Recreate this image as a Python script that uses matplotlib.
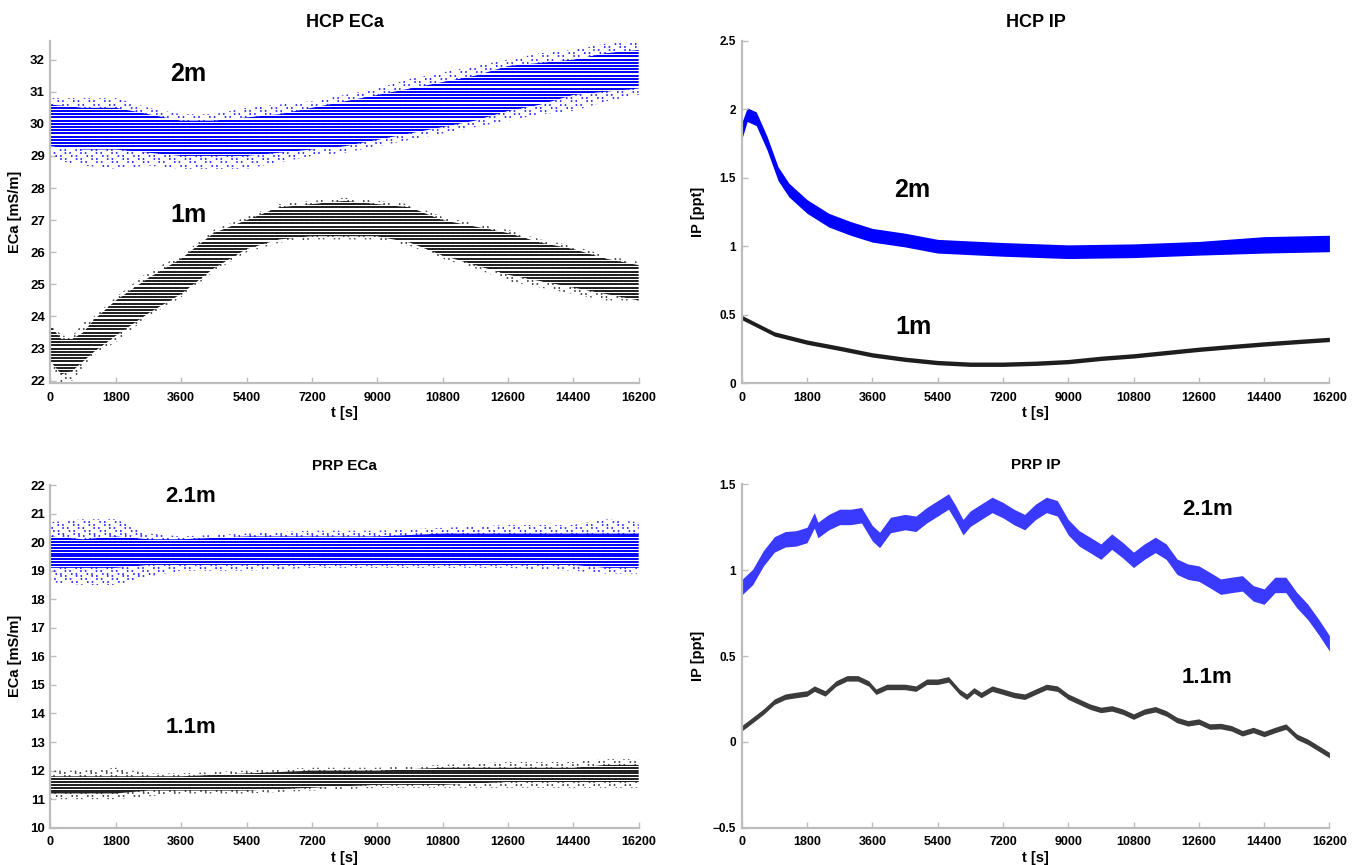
import numpy as np
import matplotlib
matplotlib.use("Agg")
import matplotlib.pyplot as plt
from matplotlib.patches import PathPatch

plt.rcParams['font.family'] = ['Liberation Sans', 'DejaVu Sans']
plt.rcParams['font.weight'] = 'bold'

# ---------------- HCP ECa ----------------
t_hcp2 = [0, 900, 1800, 2700, 3600, 4500, 5400, 6300, 7200, 8100, 9000, 9900,
          10800, 11700, 12600, 13500, 14400, 15300, 16200]
hcp2_lo = [29.3, 29.2, 29.2, 29.1, 29.0, 29.0, 29.0, 29.1, 29.2, 29.3, 29.5, 29.7,
           29.9, 30.1, 30.4, 30.6, 30.9, 31.0, 31.1]
hcp2_hi = [30.6, 30.5, 30.5, 30.3, 30.1, 30.1, 30.2, 30.3, 30.5, 30.7, 30.9, 31.1,
           31.3, 31.5, 31.8, 31.9, 32.0, 32.2, 32.3]
hcp2_olo = [28.9, 28.7, 28.6, 28.7, 28.6, 28.6, 28.6, 28.8, 29.0, 29.1, 29.3, 29.5,
            29.7, 29.9, 30.1, 30.3, 30.4, 30.7, 30.9]
hcp2_ohi = [30.8, 30.8, 30.8, 30.5, 30.3, 30.3, 30.5, 30.6, 30.7, 30.9, 31.1, 31.4,
            31.6, 31.8, 32.0, 32.2, 32.3, 32.5, 32.6]

t_hcp1 = [0, 300, 600, 900, 1200, 1800, 2700, 3600, 4500, 5400, 6300, 7200, 8100,
          9000, 9900, 10800, 11700, 12600, 13500, 14400, 15300, 16200]
hcp1_lo = [22.6, 22.2, 22.3, 22.6, 22.9, 23.4, 24.1, 24.7, 25.5, 26.1, 26.4, 26.5, 26.5,
           26.5, 26.3, 25.9, 25.6, 25.3, 25.1, 24.9, 24.7, 24.5]
hcp1_hi = [23.7, 23.3, 23.3, 23.5, 23.9, 24.5, 25.2, 25.8, 26.6, 27.0, 27.4, 27.5, 27.6,
           27.5, 27.4, 27.0, 26.8, 26.6, 26.3, 26.1, 25.8, 25.6]
hcp1_olo = [22.5, 21.9, 22.0, 22.4, 22.8, 23.2, 24.0, 24.6, 25.4, 26.0, 26.3, 26.4, 26.4,
            26.4, 26.2, 25.8, 25.5, 25.1, 24.9, 24.7, 24.5, 24.5]
hcp1_ohi = [23.9, 23.4, 23.4, 23.8, 24.0, 24.6, 25.4, 25.9, 26.7, 27.1, 27.5, 27.6, 27.7,
            27.6, 27.5, 27.1, 26.9, 26.7, 26.4, 26.2, 25.9, 25.7]

# ---------------- PRP ECa ----------------
t_prp = [0, 900, 1800, 2700, 3600, 5400, 7200, 9000, 10800, 12600, 14400, 15300, 16200]
prp2_lo = [19.1, 19.1, 19.1, 19.2, 19.2, 19.2, 19.2, 19.2, 19.2, 19.2, 19.2, 19.1, 19.1]
prp2_hi = [20.2, 20.1, 20.2, 20.1, 20.1, 20.2, 20.2, 20.2, 20.3, 20.3, 20.3, 20.3, 20.3]
prp2_olo = [18.6, 18.5, 18.5, 18.8, 19.0, 19.0, 19.1, 19.1, 19.1, 19.1, 19.0, 18.9, 18.9]
prp2_ohi = [20.7, 20.8, 20.8, 20.3, 20.2, 20.3, 20.4, 20.4, 20.5, 20.6, 20.6, 20.8, 20.7]
prp1_lo = [11.2, 11.2, 11.2, 11.3, 11.3, 11.3, 11.4, 11.5, 11.5, 11.6, 11.6, 11.6, 11.6]
prp1_hi = [11.8, 11.8, 11.8, 11.8, 11.8, 11.9, 12.0, 12.0, 12.1, 12.1, 12.1, 12.2, 12.2]
prp1_olo = [11.0, 11.0, 11.0, 11.1, 11.2, 11.2, 11.3, 11.4, 11.4, 11.4, 11.4, 11.4, 11.4]
prp1_ohi = [12.0, 12.0, 12.1, 11.9, 11.9, 12.0, 12.1, 12.1, 12.2, 12.3, 12.3, 12.4, 12.4]

# ---------------- HCP IP ----------------
t_ip2 = [0, 150, 400, 700, 1000, 1300, 1800, 2400, 3000, 3600, 4500, 5400, 7200,
         9000, 10800, 12600, 14400, 16200]
ip2_mid = [1.84, 1.96, 1.93, 1.75, 1.53, 1.41, 1.29, 1.19, 1.13, 1.08, 1.045, 1.0, 0.977,
           0.96, 0.967, 0.985, 1.01, 1.02]
ip2_half = [0.06, 0.05, 0.05, 0.05, 0.05, 0.05, 0.05, 0.05, 0.05, 0.05, 0.05, 0.05, 0.05,
            0.05, 0.05, 0.05, 0.06, 0.06]

t_ip1 = [0, 900, 1800, 2700, 3600, 4500, 5400, 6300, 7200, 8100, 9000, 9900, 10800,
         11700, 12600, 13500, 14400, 15300, 16200]
ip1_mid = [0.48, 0.36, 0.30, 0.255, 0.207, 0.175, 0.151, 0.139, 0.139, 0.146, 0.158, 0.182,
           0.20, 0.224, 0.248, 0.268, 0.287, 0.304, 0.32]

# ---------------- PRP IP ----------------
t_pip2 = [0, 300, 600, 900, 1200, 1500, 1800, 2000, 2100, 2400, 2700, 3000, 3300, 3600,
          3800, 4100, 4500, 4800, 5100, 5400, 5700, 5900, 6100, 6300, 6600, 6900, 7200,
          7500, 7800, 8100, 8400, 8700, 9000, 9300, 9600, 9900, 10200, 10500, 10800,
          11100, 11400, 11700, 12000, 12300, 12600, 12900, 13200, 13500, 13800, 14100,
          14400, 14700, 15000, 15300, 15600, 15900, 16200]
pip2_mid = [0.90, 0.96, 1.07, 1.15, 1.18, 1.185, 1.205, 1.29, 1.234, 1.28, 1.31, 1.31,
            1.32, 1.215, 1.176, 1.263, 1.28, 1.27, 1.32, 1.36, 1.40, 1.33, 1.25, 1.30,
            1.34, 1.38, 1.35, 1.31, 1.28, 1.34, 1.38, 1.36, 1.25, 1.185, 1.147, 1.108,
            1.166, 1.117, 1.06, 1.108, 1.147, 1.108, 1.02, 0.991, 0.98, 0.943, 0.904,
            0.914, 0.923, 0.865, 0.846, 0.914, 0.914, 0.826, 0.758, 0.67, 0.574]

t_pip1 = [0, 300, 600, 900, 1200, 1500, 1800, 2000, 2300, 2600, 2900, 3200, 3500, 3700,
          4000, 4500, 4800, 5100, 5400, 5700, 6000, 6200, 6400, 6600, 6900, 7200, 7500,
          7800, 8100, 8400, 8700, 9000, 9300, 9600, 9900, 10200, 10500, 10800, 11100,
          11400, 11700, 12000, 12300, 12600, 12900, 13200, 13500, 13800, 14100, 14400,
          14700, 15000, 15300, 15600, 15900, 16200]
pip1_mid = [0.079, 0.127, 0.176, 0.234, 0.263, 0.273, 0.282, 0.31, 0.282, 0.34, 0.37,
            0.37, 0.34, 0.292, 0.32, 0.32, 0.31, 0.35, 0.35, 0.364, 0.292, 0.263, 0.30,
            0.273, 0.31, 0.292, 0.273, 0.263, 0.292, 0.32, 0.31, 0.263, 0.234, 0.205,
            0.186, 0.195, 0.176, 0.147, 0.176, 0.19, 0.166, 0.127, 0.108, 0.118, 0.089,
            0.092, 0.079, 0.05, 0.069, 0.046, 0.069, 0.089, 0.03, 0.001, -0.038, -0.077]

xticks = [0, 1800, 3600, 5400, 7200, 9000, 10800, 12600, 14400, 16200]
BLUE = '#0000ff'
DARK = '#1e1e1e'
AXC = '#bdbdbd'


def clip_to_band(ax, t, lo, hi):
    poly = ax.fill_between(t, lo, hi, facecolor='none', edgecolor='none', lw=0)
    patch = PathPatch(poly.get_paths()[0], transform=ax.transData,
                      facecolor='none', edgecolor='none')
    ax.add_patch(patch)
    return patch


def striped(ax, t, lo, hi, olo, ohi, color, lw):
    # quantised readings (0.1 mS/m) drawn as horizontal stripes
    levels = np.round(np.arange(np.min(olo) - 0.1, np.max(ohi) + 0.15, 0.1), 2)
    outer = clip_to_band(ax, t, olo, ohi)
    # sparse dots outside the core band, dash phase shifted per row
    styles = [((k * 3.1) % 9.0, (1.0, 2.0, 1.0, 6.0)) for k in range(len(levels))]
    lc = ax.hlines(levels, t[0], t[-1], colors=color, lw=lw * 0.8, linestyles=styles)
    lc.set_clip_path(outer)
    core = clip_to_band(ax, t, lo, hi)
    lc2 = ax.hlines(levels, t[0], t[-1], colors=color, lw=lw)
    lc2.set_clip_path(core)


def style(ax, ylim, yticks, ylabel, ytick_size, ylab_x):
    ax.set_xlim(0, 16200)
    ax.set_ylim(*ylim)
    ax.set_xticks(xticks)
    ax.set_yticks(yticks)
    for s in ['top', 'right']:
        ax.spines[s].set_visible(False)
    for s in ['left', 'bottom']:
        ax.spines[s].set_color(AXC)
        ax.spines[s].set_linewidth(1.6)
    ax.tick_params(direction='in', length=4, width=1, color=AXC)
    ax.tick_params(axis='x', labelsize=9, pad=6)
    ax.tick_params(axis='y', labelsize=ytick_size, pad=4)
    for lab in ax.get_xticklabels() + ax.get_yticklabels():
        lab.set_fontweight('bold')
    ax.set_xlabel('t [s]', fontsize=10.5, fontweight='bold', labelpad=2)
    ax.set_ylabel(ylabel, fontsize=10.5, fontweight='bold')
    ax.yaxis.set_label_coords(ylab_x, 0.5)


fig = plt.figure(figsize=(13.6, 8.65), dpi=100)
ax1 = fig.add_axes([0.0371, 0.5569, 0.4325, 0.3957])
ax2 = fig.add_axes([0.5454, 0.5569, 0.4321, 0.3961])
ax3 = fig.add_axes([0.0371, 0.0431, 0.4325, 0.3962])
ax4 = fig.add_axes([0.5454, 0.0431, 0.4321, 0.3970])

# HCP ECa
striped(ax1, t_hcp2, hcp2_lo, hcp2_hi, hcp2_olo, hcp2_ohi, BLUE, 1.4)
striped(ax1, t_hcp1, hcp1_lo, hcp1_hi, hcp1_olo, hcp1_ohi, DARK, 1.4)
style(ax1, (21.92, 32.58), range(22, 33), 'ECa [mS/m]', 9.5, -0.048)
ax1.set_title('HCP ECa', fontsize=13, fontweight='bold', pad=10)
ax1.text(3800, 31.55, '2m', fontsize=18, fontweight='bold', ha='center', va='center')
ax1.text(3800, 27.15, '1m', fontsize=18, fontweight='bold', ha='center', va='center')

# HCP IP
m2 = np.array(ip2_mid)
h2 = np.array(ip2_half)
ax2.fill_between(t_ip2, m2 - h2, m2 + h2, color=BLUE, lw=0)
m1 = np.array(ip1_mid)
ax2.fill_between(t_ip1, m1 - 0.016, m1 + 0.016, color=DARK, lw=0)
style(ax2, (0, 2.5), [0, 0.5, 1, 1.5, 2, 2.5], 'IP [ppt]', 8.5, -0.063)
ax2.set_yticklabels(['0', '0.5', '1', '1.5', '2', '2.5'])
ax2.set_title('HCP IP', fontsize=13, fontweight='bold', pad=10)
ax2.text(4700, 1.41, '2m', fontsize=18, fontweight='bold', ha='center', va='center')
ax2.text(4740, 0.41, '1m', fontsize=18, fontweight='bold', ha='center', va='center')

# PRP ECa
striped(ax3, t_prp, prp2_lo, prp2_hi, prp2_olo, prp2_ohi, BLUE, 1.4)
striped(ax3, t_prp, prp1_lo, prp1_hi, prp1_olo, prp1_ohi, DARK, 1.4)
style(ax3, (10, 22), range(10, 23), 'ECa [mS/m]', 9.5, -0.048)
ax3.set_title('PRP ECa', fontsize=11, fontweight='bold', pad=11)
ax3.text(3870, 21.6, '2.1m', fontsize=16, fontweight='bold', ha='center', va='center')
ax3.text(3870, 13.5, '1.1m', fontsize=16, fontweight='bold', ha='center', va='center')

# PRP IP
p2 = np.array(pip2_mid)
ax4.fill_between(t_pip2, p2 - 0.045, p2 + 0.045, color='#3a3aff', lw=0)
p1 = np.array(pip1_mid)
ax4.fill_between(t_pip1, p1 - 0.016, p1 + 0.016, color='#3c3c3c', lw=0)
style(ax4, (-0.5, 1.5), [-0.5, 0, 0.5, 1, 1.5], 'IP [ppt]', 8.5, -0.063)
ax4.set_yticklabels(['\u22120.5', '0', '0.5', '1', '1.5'])
ax4.set_title('PRP IP', fontsize=11, fontweight='bold', pad=11)
ax4.text(12830, 1.355, '2.1m', fontsize=16, fontweight='bold', ha='center', va='center')
ax4.text(12830, 0.376, '1.1m', fontsize=16, fontweight='bold', ha='center', va='center')

fig.savefig('out.png', dpi=100)
